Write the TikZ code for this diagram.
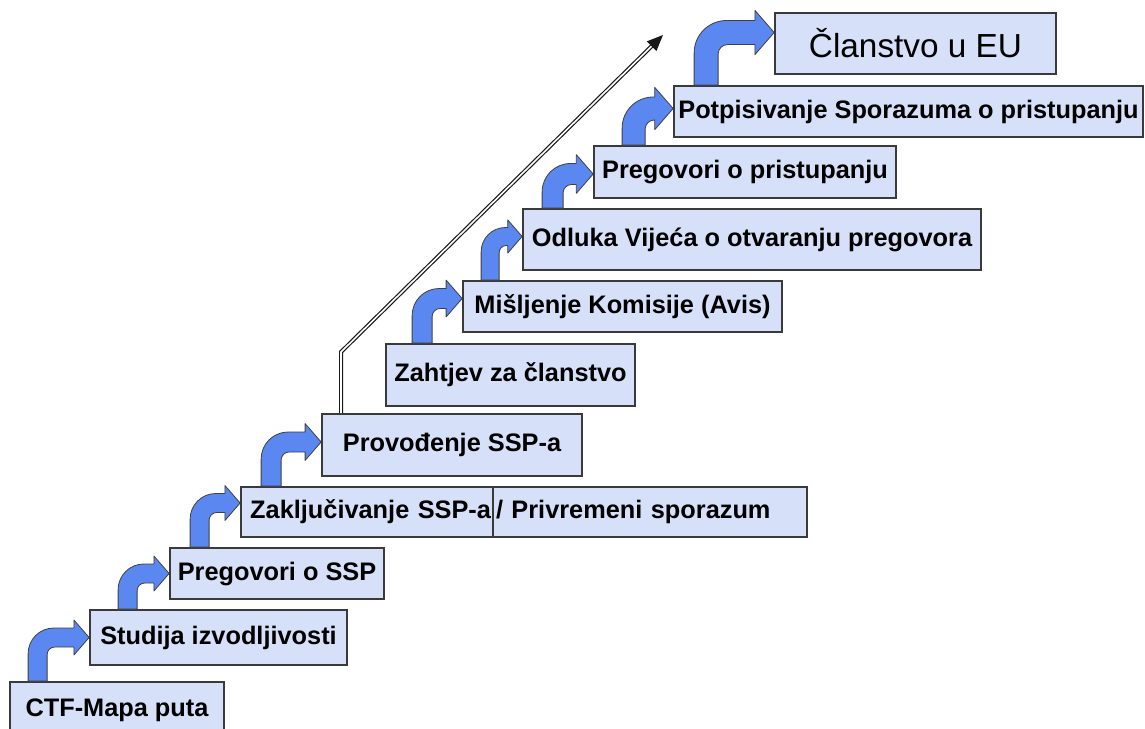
\documentclass[tikz,border=0pt]{standalone}
\usepackage{fontspec}
\setmainfont{Liberation Sans}
\usepackage{tikz}
\usetikzlibrary{calc}
\usetikzlibrary{arrows.meta}
\definecolor{kutija}{HTML}{D6E1F9}
\definecolor{okvir}{HTML}{3A3A3A}
\definecolor{plava}{HTML}{5A88F0}
\tikzset{
    korak/.style={draw=okvir, line width=1.3pt, fill=kutija, inner sep=0pt,
        font=\bfseries\fontsize{19}{22}\selectfont},
    vel/.style 2 args={minimum width=#1*0.75pt, minimum height=#2*0.75pt},
    savijena/.style={fill=plava, draw=black!75, line width=0.6pt, line join=round},
    dvojna/.style={draw=black!90, line width=0.9pt, double=white, double distance=1.2pt,
        -{Triangle[length=12pt,width=10pt]}}
}
% plava savijena strelica: #1 donja kutija, #2 gornja kutija, #3 pomak stupa, #4 pomak vrha, #5 debljina
\newcommand{\strelica}[5]{%
    \pgfmathsetmacro{\stw}{#5*0.75}%
    \pgfmathsetmacro{\sth}{\stw/2}%
    \pgfmathsetmacro{\str}{1.35*\stw}%
    \pgfmathsetmacro{\sti}{0.4*\stw}%
    \pgfmathsetmacro{\sta}{\sth-\str}%
    \pgfmathsetmacro{\stx}{\stw+\sti}%
    \pgfmathsetmacro{\stk}{0.92*\stw}%
    \pgfmathsetmacro{\stl}{0.8*\stw}%
    \coordinate (s1) at ($(#1.north west)+(#3,0)$);%
    \coordinate (s2) at ($(#2.west)+(0,#4)$);%
    \filldraw[savijena] (s1)
        -- ($(s1 |- s2)+(0pt,\sta pt)$)
        arc[start angle=180, end angle=90, radius=\str pt]
        -- ($(s2)+(-\stl pt,\sth pt)$)
        -- ($(s2)+(-\stl pt,\stk pt)$)
        -- (s2)
        -- ($(s2)+(-\stl pt,-\stk pt)$)
        -- ($(s2)+(-\stl pt,-\sth pt)$)
        -- ($(s1 |- s2)+(\stx pt,-\sth pt)$)
        arc[start angle=90, end angle=180, radius=\sti pt]
        -- ($(s1)+(\stw pt,0pt)$)
        -- cycle;%
}

\begin{document}
\begin{tikzpicture}[x=0.75pt,y=-0.75pt]
    \useasboundingbox (0,0) rectangle (1145,728);

    % stepenice
    \node[korak, vel={214}{56}] (ctf) at (117,710) {CTF-Mapa puta};
    \node[korak, vel={257}{55}] (studija) at (218.5,637.5) {Studija izvodljivosti};
    \node[korak, vel={214}{51}] (pregssp) at (277,573.5) {Pregovori o SSP};
    \node[korak, vel={314}{50}, text width=231pt, align=left] (privr) at (650,512) {/ Privremeni sporazum};
    \node[korak, vel={252}{50}, text width=186pt, align=right] (zaklj) at (367,512) {Zaključivanje SSP-a};
    \node[korak, vel={260}{62}] (provod) at (452,445) {Provođenje SSP-a};
    \node[korak, vel={249}{62}] (zahtjev) at (510.5,375) {Zahtjev za članstvo};
    \node[korak, vel={319}{51}] (misljenje) at (622.5,306.5) {Mišljenje Komisije (Avis)};
    \node[korak, vel={458}{61}] (odluka) at (752,239.5) {Odluka Vijeća o otvaranju pregovora};
    \node[korak, vel={302}{52}] (pregpr) at (745,172) {Pregovori o pristupanju};
    \node[korak, vel={469}{51}] (potpis) at (908.5,111.5) {Potpisivanje Sporazuma o pristupanju};
    \node[korak, vel={281}{61}, font=\fontsize{25}{28}\selectfont] (clanstvo) at (915.5,43.5) {Članstvo u EU};

    % strelice medju stepenicama
    \strelica{ctf}{studija}{19}{0}{19}
    \strelica{studija}{pregssp}{29}{0}{19}
    \strelica{pregssp}{zaklj}{21}{-9}{19}
    \strelica{zaklj}{provod}{21}{-3}{20}
    \strelica{zahtjev}{misljenje}{27}{-8}{20}
    \strelica{misljenje}{odluka}{19}{-3}{18}
    \strelica{odluka}{pregpr}{20}{2}{21}
    \strelica{pregpr}{potpis}{29}{-3}{23}
    \strelica{potpis}{clanstvo}{21}{-11}{24}

    % dvostruka strelica
    \coordinate (lom) at (341,352);
    \coordinate (vrh) at (663,35);
    \draw[dvojna] (lom |- provod.north) -- (lom) -- (vrh);
\end{tikzpicture}
\end{document}
